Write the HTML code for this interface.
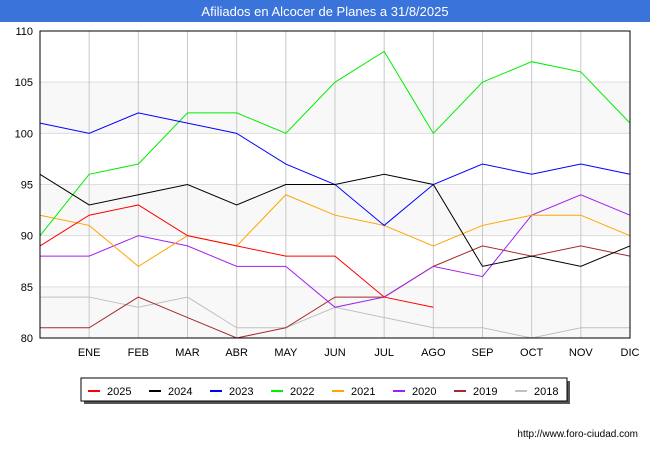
<!DOCTYPE html>
<html><head><meta charset="utf-8"><style>
body{margin:0;background:#fff;font-family:"Liberation Sans",sans-serif}
</style></head><body>
<svg width="650" height="450" xmlns="http://www.w3.org/2000/svg" font-family="Liberation Sans, sans-serif">
<rect x="0" y="0" width="650" height="22" fill="#3a73d9"/>
<text x="325" y="16" text-anchor="middle" fill="#fff" font-size="13">Afiliados en Alcocer de Planes a 31/8/2025</text>
<g id="plot"></g>
<text x="638" y="437" text-anchor="end" font-size="10" fill="#000">http://www.foro-ciudad.com</text>
</svg>
<script>
const months=["","ENE","FEB","MAR","ABR","MAY","JUN","JUL","AGO","SEP","OCT","NOV","DIC"];
const yTicks=[80,85,90,95,100,105,110];
const seriesNames=["2025","2024","2023","2022","2021","2020","2019","2018"];
const seriesColors=["#ff0000","#000000","#0000ff","#00ee00","#ffa500","#a020f0","#a52a2a","#c0c0c0"];
const s2025=[89,92,93,90,89,88,88,84,83];
const s2024=[96,93,94,95,93,95,95,96,95,87,88,87,89];
const s2023=[101,100,102,101,100,97,95,91,95,97,96,97,96];
const s2022=[90,96,97,102,102,100,105,108,100,105,107,106,101];
const s2021=[92,91,87,90,89,94,92,91,89,91,92,92,90];
const s2020=[88,88,90,89,87,87,83,84,87,86,92,94,92];
const s2019=[81,81,84,82,80,81,84,84,87,89,88,89,88];
const s2018=[84,84,83,84,81,81,83,82,81,81,80,81,81];
const allSeries=[s2025,s2024,s2023,s2022,s2021,s2020,s2019,s2018];
const X0=40,X1=630,Y0=338,Y1=31;
const xs=i=>X0+i*(X1-X0)/12;
const ys=v=>Y0-(v-80)*(Y0-Y1)/30;
const NS="http://www.w3.org/2000/svg";
const g=document.getElementById('plot');
function mk(t,a){const e=document.createElementNS(NS,t);for(const k in a)e.setAttribute(k,a[k]);g.appendChild(e);return e;}
for(let i=0;i<yTicks.length-1;i++){
  const r=mk('rect',{x:X0,y:ys(yTicks[i+1]),width:X1-X0,height:ys(yTicks[i])-ys(yTicks[i+1]),fill:i%2==0?'#f8f8f8':'#fff'});
  
  
}
yTicks.forEach(v=>{
  const l=mk('line',{x1:X0,x2:X1,y1:ys(v),y2:ys(v),stroke:'#ddd'});
  
  
  const t=mk('text',{x:X0-7,y:ys(v)+4,'text-anchor':'end','font-size':11});
  t.textContent=v;
  
  
});
months.forEach((m,i)=>{
  const l=mk('line',{x1:xs(i),x2:xs(i),y1:Y1,y2:Y0,stroke:'#c8c8c8'});
  
  
  if(m){const t=mk('text',{x:xs(i),y:356,'text-anchor':'middle','font-size':11});
  t.textContent=m;
  
  }
});
for(let k=allSeries.length-1;k>=0;k--){
  const p=mk('polyline',{points:allSeries[k].map((v,i)=>xs(i)+','+ys(v)).join(' '),fill:'none',stroke:seriesColors[k],'stroke-width':1});
  
  
}
const frame=mk('rect',{x:X0,y:Y1,width:X1-X0,height:Y0-Y1,fill:'none',stroke:'#000'});


const sh=mk('rect',{x:84,y:381,width:486,height:23,fill:'#555'});


const lb=mk('rect',{x:81,y:378,width:486,height:23,fill:'#fff',stroke:'#000'});


seriesNames.forEach((n,k)=>{
  const x=88+k*61;
  const l=mk('line',{x1:x,x2:x+12,y1:391,y2:391,stroke:seriesColors[k],'stroke-width':2});
  
  
  const t=mk('text',{x:x+19,y:395,'font-size':11});
  t.textContent=n;
  
  
});
</script>
</body></html>
